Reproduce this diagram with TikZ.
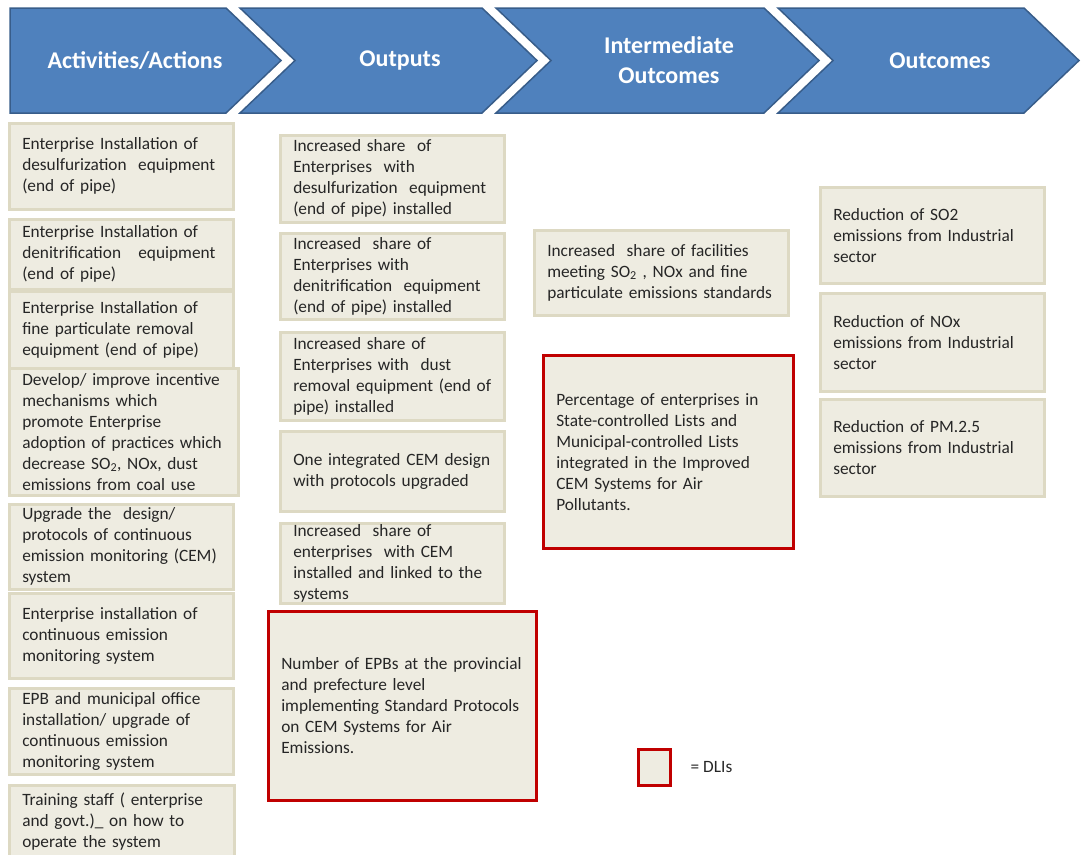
\documentclass[tikz,border=0pt]{standalone}
\usepackage{fontspec}
\setmainfont{Carlito}
\usepackage{tikz}
\usetikzlibrary{positioning}

\definecolor{chevblue}{HTML}{4F81BD}
\definecolor{chevline}{HTML}{385D8A}
\definecolor{boxfill}{HTML}{EEECE1}
\definecolor{boxline}{HTML}{DDD9C3}
\definecolor{dlired}{HTML}{C00000}

\begin{document}
\begin{tikzpicture}[
    x=1pt, y=1pt,
    chev/.style={fill=chevblue, draw=chevline, line width=1.5pt, line join=miter},
    head/.style={text=white, font=\bfseries\fontsize{24}{30}\selectfont, align=center},
    box/.style={draw=boxline, fill=boxfill, line width=2.5pt, anchor=north west,
        inner xsep=13pt, inner ysep=0pt, align=left, text=black!85,
        font=\fontsize{17.3}{21}\selectfont},
    dli/.style={box, draw=dlired}
  ]
  \useasboundingbox (0,0) rectangle (1083,-854);

  % Header chevrons
  \draw[chev] (10,-8) -- (226,-8) -- (281,-60.5) -- (226,-113) -- (10,-113) -- cycle;
  \draw[chev] (240,-8) -- (482,-8) -- (537,-60.5) -- (482,-113) -- (240,-113) -- (295,-60.5) -- cycle;
  \draw[chev] (496,-8) -- (764,-8) -- (819,-60.5) -- (764,-113) -- (496,-113) -- (551,-60.5) -- cycle;
  \draw[chev] (778,-8) -- (1024,-8) -- (1079,-60.5) -- (1024,-113) -- (778,-113) -- (833,-60.5) -- cycle;

  \node[head] (hact) at (135,-60.5) {Activities/Actions};
  \node[head] (hout) at (400,-60.5) {Outputs};
  \node[head] (hint) at (669,-60.5) {Intermediate\\Outcomes};
  \node[head] (hres) at (940,-60.5) {Outcomes};

  % Activities/Actions
  \node[box, text width=198pt, minimum height=86pt] (a1) at (8,-122)
    {Enterprise Installation of\\desulfurization~ equipment\\(end of pipe)};
  \node[box, text width=198pt, minimum height=70pt] (a2) at (8,-218)
    {Enterprise Installation of\\denitrification~~ equipment\\(end of pipe)};
  \node[box, text width=198pt, minimum height=77pt] (a3) at (8,-290)
    {Enterprise Installation of\\fine particulate removal\\equipment (end of pipe)};
  \node[box, text width=203pt, minimum height=127pt] (a4) at (8,-367)
    {Develop/ improve incentive\\mechanisms which\\promote Enterprise\\adoption of practices which\\decrease SO\textsubscript{2}, NOx, dust\\emissions from coal use};
  \node[box, text width=198pt, minimum height=85pt] (a5) at (8,-503)
    {Upgrade the~ design/\\protocols of continuous\\emission monitoring (CEM)\\system};
  \node[box, text width=198pt, minimum height=85pt] (a6) at (8,-592)
    {Enterprise installation of\\continuous emission\\monitoring system};
  \node[box, text width=198pt, minimum height=86pt] (a7) at (8,-687)
    {EPB and municipal office\\installation/ upgrade of\\continuous emission\\monitoring system};
  \node[box, text width=199pt, minimum height=72pt] (a8) at (8,-784)
    {Training staff ( enterprise\\and govt.)\_ on how to\\operate the system};

  % Outputs
  \node[box, text width=198pt, minimum height=87pt] (o1) at (279,-134)
    {Increased share~ of\\Enterprises~ with\\desulfurization~ equipment\\(end of pipe) installed};
  \node[box, text width=198pt, minimum height=86pt] (o2) at (279,-232)
    {Increased~ share of\\Enterprises with\\denitrification~ equipment\\(end of pipe) installed};
  \node[box, text width=198pt, minimum height=88pt] (o3) at (279,-331)
    {Increased share of\\Enterprises with~ dust\\removal equipment (end of\\pipe) installed};
  \node[box, text width=198pt, minimum height=80pt] (o4) at (279,-430)
    {One integrated CEM design\\with protocols upgraded};
  \node[box, text width=198pt, minimum height=80pt] (o5) at (279,-522)
    {Increased~ share of\\enterprises~ with CEM\\installed and linked to the\\systems};
  \node[dli, text width=242pt, minimum height=189pt] (o6) at (267,-610)
    {Number of EPBs at the provincial\\and prefecture level\\implementing Standard Protocols\\on CEM Systems for Air\\Emissions.};

  % Intermediate outcomes
  \node[box, text width=228pt, minimum height=85pt] (i1) at (533,-229)
    {Increased~ share of facilities\\meeting SO\textsubscript{2} , NOx and fine\\particulate emissions standards};
  \node[dli, text width=224pt, minimum height=193pt] (i2) at (542,-354)
    {Percentage of enterprises in\\State-controlled Lists and\\Municipal-controlled Lists\\integrated in the Improved\\CEM Systems for Air\\Pollutants.};

  % Outcomes
  \node[box, text width=198pt, minimum height=96pt] (r1) at (819,-186)
    {Reduction of SO2\\emissions from Industrial\\sector};
  \node[box, text width=198pt, minimum height=98pt] (r2) at (819,-292)
    {Reduction of NOx\\emissions from Industrial\\sector};
  \node[box, text width=198pt, minimum height=97pt] (r3) at (819,-398)
    {Reduction of PM.2.5\\emissions from Industrial\\sector};

  % Legend
  \node[dli, minimum width=32pt, minimum height=36pt, inner sep=0pt] (leg) at (637,-748) {};
  \node[right=19pt of leg, inner sep=0pt, text=black!85, font=\fontsize{17.3}{21}\selectfont] (legtxt) {= DLIs};
\end{tikzpicture}
\end{document}
